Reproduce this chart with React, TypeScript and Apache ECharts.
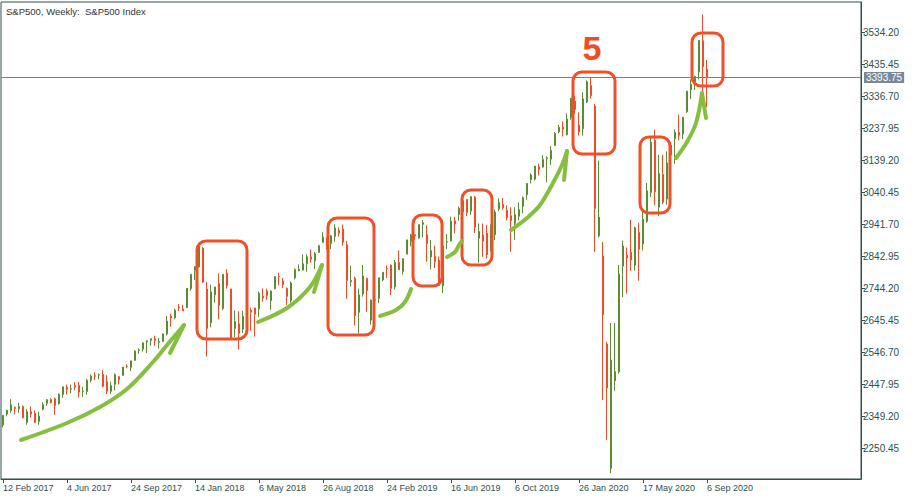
import React, { useEffect, useRef } from "react";
import * as echarts from "echarts";

// ---- data -----------------------------------------------------------
const firstWeekUTC = Date.UTC(2017, 1, 12);
const gapAfterIndex = 91; // broker data gap (10 weeks missing)
const gapWeeks = 10;
const slotCount = 215;
const tickEvery = 16;

const opens = [
  2321.7, 2354.9, 2365.2, 2375.2, 2371.6, 2378.2, 2329.1, 2362.3, 2357.2, 2332.6,
  2370.3, 2388.5, 2399.9, 2402.3, 2387.2, 2415.6, 2437.8, 2432.0, 2442.6, 2443.3,
  2424.0, 2424.5, 2459.5, 2473.4, 2475.5, 2477.1, 2454.9, 2425.5, 2447.4, 2470.4,
  2474.5, 2502.5, 2499.4, 2521.2, 2551.4, 2555.6, 2578.1, 2582.6, 2587.5, 2576.5,
  2579.5, 2602.7, 2657.2, 2652.2, 2685.9, 2679.1, 2683.7, 2742.7, 2799.0, 2809.2,
  2867.2, 2741.1, 2636.8, 2723.0, 2757.4, 2681.1, 2790.5, 2741.4, 2619.4, 2633.5,
  2617.2, 2670.1, 2675.4, 2682.5, 2680.3, 2718.6, 2735.4, 2705.1, 2741.7, 2780.2,
  2765.8, 2742.9, 2705.0, 2775.6, 2797.4, 2799.2, 2819.0, 2840.3, 2827.9, 2853.9,
  2884.7, 2897.0, 2881.4, 2903.8, 2921.8, 2926.3, 2877.5, 2763.8, 2773.9, 2669.3,
  2726.4, 2773.9, 2645.0, 2706.5, 2712.4, 2769.3, 2804.4, 2814.4, 2747.6, 2822.6,
  2796.0, 2848.6, 2888.3, 2908.3, 2898.8, 2940.6, 2908.9, 2840.2, 2841.9, 2830.0,
  2751.5, 2885.8, 2889.8, 2951.4, 2971.4, 2979.8, 3017.8, 2981.9, 3024.5, 2898.1,
  2907.1, 2913.5, 2866.7, 2909.0, 2988.4, 3001.5, 2983.5, 2967.1, 2944.2, 2965.8,
  2996.5, 3032.1, 3079.0, 3080.3, 3117.9, 3117.4, 3143.9, 3141.9, 3183.6, 3226.1,
  3240.1, 3217.6, 3271.1, 3321.0, 3247.2, 3235.7, 3318.3, 3369.0, 3305.0, 2905.0,
  2843.0, 2571.0, 2188.0, 2458.0, 2486.0, 2812.0, 2845.6, 2854.7, 2815.0, 2915.5,
  2880.0, 2950.0, 3038.8, 3199.9, 2993.8, 3094.4, 3018.6, 3155.3, 3205.1, 3224.3,
  3219.8, 3288.3, 3356.0, 3380.9, 3411.1, 3507.4, 3420.0,
];
const highs = [
  2351.3, 2367.8, 2401.0, 2378.8, 2390.0, 2381.9, 2370.4, 2378.4, 2366.4, 2361.4,
  2391.4, 2401.0, 2403.9, 2405.8, 2418.7, 2440.2, 2446.2, 2446.3, 2453.8, 2453.8,
  2439.2, 2463.5, 2477.6, 2484.0, 2480.4, 2490.9, 2474.9, 2454.8, 2480.4, 2472.0,
  2500.2, 2508.9, 2519.4, 2552.5, 2557.7, 2575.4, 2583.0, 2588.4, 2597.0, 2590.1,
  2604.2, 2657.7, 2665.2, 2680.4, 2695.0, 2692.1, 2743.2, 2787.9, 2810.3, 2872.9,
  2870.6, 2763.4, 2754.4, 2747.8, 2789.2, 2786.6, 2801.9, 2741.4, 2674.8, 2672.1,
  2674.0, 2717.5, 2683.6, 2682.9, 2732.9, 2743.0, 2742.2, 2736.9, 2779.9, 2791.5,
  2775.0, 2746.1, 2764.4, 2804.5, 2816.8, 2848.0, 2848.1, 2863.4, 2855.6, 2876.2,
  2916.5, 2900.2, 2908.3, 2940.9, 2931.4, 2939.9, 2889.5, 2813.5, 2778.9, 2741.7,
  2815.2, 2776.0, 2709.0, 2739.0, 2775.7, 2792.7, 2813.5, 2816.9, 2830.7, 2860.3,
  2836.0, 2893.4, 2910.5, 2909.6, 2939.9, 2954.1, 2937.3, 2892.2, 2874.7, 2841.4,
  2885.0, 2910.6, 2964.2, 2964.2, 2995.8, 3017.8, 3017.8, 3028.0, 3028.0, 2943.3,
  2943.3, 2939.1, 2940.4, 2985.9, 3020.9, 3022.0, 2999.2, 2993.3, 2993.3, 3008.3,
  3027.4, 3066.9, 3097.8, 3120.5, 3127.6, 3154.3, 3150.6, 3182.7, 3225.6, 3247.9,
  3258.1, 3283.0, 3329.9, 3337.8, 3285.9, 3348.0, 3385.1, 3393.5, 3312.0, 3137.0,
  2886.0, 2578.0, 2636.0, 2636.0, 2815.0, 2890.0, 2869.1, 2954.9, 2934.0, 2945.8,
  2980.3, 3068.7, 3211.7, 3233.1, 3155.5, 3155.5, 3165.8, 3186.4, 3233.7, 3279.3,
  3272.2, 3352.5, 3387.9, 3399.5, 3509.2, 3588.1, 3448.0,
];
const lows = [
  2313.9, 2348.0, 2358.9, 2354.5, 2358.9, 2341.9, 2322.3, 2344.7, 2328.1, 2322.2,
  2366.4, 2379.8, 2387.7, 2352.7, 2384.3, 2405.6, 2415.7, 2419.4, 2428.4, 2405.7,
  2407.7, 2415.8, 2453.5, 2459.9, 2462.3, 2437.8, 2417.4, 2417.3, 2428.2, 2446.6,
  2474.5, 2496.7, 2488.0, 2520.4, 2541.0, 2547.9, 2544.0, 2566.2, 2566.3, 2557.5,
  2578.2, 2598.0, 2624.8, 2647.6, 2673.2, 2673.6, 2682.4, 2736.1, 2768.6, 2808.1,
  2760.0, 2532.7, 2622.5, 2699.0, 2647.3, 2675.8, 2742.2, 2585.9, 2593.1, 2553.8,
  2605.6, 2660.0, 2612.7, 2594.6, 2655.2, 2701.9, 2707.4, 2676.8, 2740.5, 2752.7,
  2743.4, 2692.0, 2699.0, 2770.6, 2796.3, 2799.2, 2795.1, 2821.9, 2802.5, 2853.9,
  2884.7, 2864.1, 2864.1, 2887.0, 2903.3, 2874.3, 2710.5, 2749.2, 2628.2, 2603.5,
  2717.9, 2670.8, 2631.1, 2681.8, 2697.7, 2764.6, 2775.1, 2722.3, 2739.5, 2800.5,
  2785.7, 2848.6, 2873.3, 2891.9, 2896.4, 2900.5, 2825.4, 2801.4, 2805.5, 2750.5,
  2728.8, 2864.0, 2887.3, 2912.7, 2952.2, 2970.3, 2966.0, 2970.0, 2914.1, 2822.1,
  2840.6, 2835.0, 2857.0, 2891.9, 2981.4, 2985.7, 2952.9, 2856.0, 2892.7, 2952.9,
  2975.3, 3016.6, 3066.9, 3075.8, 3091.4, 3115.4, 3070.3, 3123.8, 3183.6, 3221.9,
  3212.0, 3214.6, 3263.6, 3281.5, 3214.6, 3214.6, 3315.2, 3328.5, 2855.8, 2900.0,
  2398.0, 2275.0, 2173.0, 2427.0, 2480.0, 2716.0, 2727.1, 2797.5, 2797.9, 2766.6,
  2860.0, 2945.0, 3025.0, 2999.5, 2965.7, 3003.0, 3000.9, 3115.7, 3127.7, 3200.1,
  3204.1, 3284.5, 3327.7, 3354.7, 3387.9, 3349.6, 3302.0,
];
const closes = [
  2351.2, 2367.3, 2383.1, 2372.6, 2378.3, 2344.0, 2362.7, 2355.5, 2329.0, 2348.7,
  2384.2, 2399.3, 2390.9, 2381.7, 2415.8, 2439.1, 2431.8, 2433.2, 2438.3, 2423.4,
  2425.2, 2459.3, 2472.5, 2472.1, 2476.8, 2441.3, 2425.6, 2443.1, 2476.6, 2461.4,
  2500.2, 2502.2, 2519.4, 2549.3, 2553.2, 2575.2, 2581.1, 2587.8, 2582.3, 2578.9,
  2602.4, 2642.2, 2651.5, 2675.8, 2683.3, 2673.6, 2743.2, 2786.2, 2810.3, 2872.9,
  2762.1, 2619.6, 2732.2, 2747.3, 2691.3, 2786.6, 2752.0, 2588.3, 2640.9, 2604.5,
  2656.3, 2670.1, 2669.9, 2663.4, 2727.7, 2713.0, 2721.3, 2734.6, 2779.0, 2779.4,
  2754.9, 2718.4, 2759.8, 2801.3, 2801.8, 2818.8, 2840.4, 2833.3, 2850.1, 2874.7,
  2901.5, 2871.7, 2905.0, 2929.7, 2914.0, 2885.6, 2767.1, 2767.8, 2658.7, 2723.1,
  2781.0, 2736.3, 2706.5, 2707.9, 2775.6, 2792.7, 2803.7, 2743.1, 2822.5, 2800.7,
  2834.4, 2892.7, 2907.4, 2905.0, 2939.9, 2945.6, 2881.4, 2859.5, 2826.1, 2752.1,
  2873.3, 2887.0, 2950.5, 2941.8, 2990.4, 3013.8, 2976.6, 3025.9, 2932.1, 2918.7,
  2888.7, 2847.1, 2926.5, 2978.7, 3007.4, 2992.1, 2961.8, 2952.0, 2970.3, 2986.2,
  3022.6, 3066.9, 3093.1, 3120.5, 3110.3, 3141.0, 3145.9, 3168.8, 3221.2, 3240.0,
  3234.9, 3265.4, 3329.6, 3295.5, 3225.5, 3327.7, 3380.2, 3337.8, 2990.0, 2963.0,
  2661.0, 2436.0, 2522.0, 2486.0, 2787.0, 2874.0, 2836.7, 2830.7, 2929.8, 2863.7,
  2955.5, 3044.3, 3193.9, 3041.3, 3097.7, 3009.1, 3130.0, 3185.0, 3224.7, 3215.6,
  3271.1, 3351.3, 3372.9, 3397.2, 3508.0, 3427.0, 3393.75,
];

const yTicks = [
  2250.45, 2349.2, 2447.95, 2546.7, 2645.45, 2744.2, 2842.95, 2941.7,
  3040.45, 3139.2, 3237.95, 3336.7, 3435.45, 3534.2,
];
const lastPrice = 3393.75;
const yMin = 2154.79;
const yMax = 3626.78;
const titleText = "S&P500, Weekly:  S&P500 Index";
const waveLabel = "5";

// ---- style -----------------------------------------------------------
const BULL = "#5a8c32";
const BEAR = "#f24c24";
const FRAME = "#2f4f4f";
const BOX = "#f34f27";
const ARROW = "#86bf40";
const MONTHS = ["Jan", "Feb", "Mar", "Apr", "May", "Jun", "Jul", "Aug", "Sep", "Oct", "Nov", "Dec"];

function buildWeeks(n: number): string[] {
  const out: string[] = [];
  let t = firstWeekUTC;
  for (let i = 0; i < n; i++) {
    const d = new Date(t);
    out.push(`${d.getUTCDate()} ${MONTHS[d.getUTCMonth()]} ${d.getUTCFullYear()}`);
    t += 7 * 864e5;
    if (i === gapAfterIndex) t += gapWeeks * 7 * 864e5;
  }
  return out;
}

// annotation overlays (hand-drawn marks in the reference)
const boxes = [
  { x: 197, y: 241, w: 50, h: 98 },
  { x: 328, y: 218, w: 46, h: 117 },
  { x: 413, y: 215, w: 29, h: 71 },
  { x: 462, y: 190, w: 30, h: 75 },
  { x: 573, y: 72, w: 42, h: 82 },
  { x: 640, y: 137, w: 30, h: 76 },
  { x: 692, y: 33, w: 31, h: 53 },
];
const arrows: number[][][] = [
  [[21, 440], [67, 423], [100, 407], [127, 389], [153, 362], [167, 345], [184, 325]],
  [[184, 325], [170, 353]],
  [[258, 322], [287, 308], [310, 287], [322, 265]],
  [[322, 265], [314, 292]],
  [[380, 316], [396, 310], [405, 302], [411, 289]],
  [[447, 257], [455, 252], [459, 245], [462, 241]],
  [[511, 230], [527, 218], [540, 205], [553, 183], [562, 165], [567, 151]],
  [[567, 151], [564, 180]],
  [[676, 158], [687, 142], [696, 123], [702, 93]],
  [[702, 93], [706, 118]],
];

export default function App() {
  const ref = useRef<HTMLDivElement>(null);
  useEffect(() => {
    if (!ref.current) return;
    const chart = echarts.init(ref.current, null, { renderer: "svg" });
    const n = closes.length;
    const weeks = buildWeeks(slotCount);
    const candles = opens.map((o, i) => [o, closes[i], lows[i], highs[i]]);
    const showIdx = (idx: number) => idx % tickEvery === 0 && idx < n;

    const graphic: any[] = [
      {
        type: "text",
        left: 6,
        top: 6,
        style: { text: titleText, fill: "#333", fontSize: 9.5, fontFamily: "Liberation Sans, Arial, sans-serif" },
        z: 10,
      },
      {
        type: "text",
        x: 592,
        y: 48,
        style: {
          text: waveLabel,
          fill: BEAR,
          fontSize: 34,
          fontWeight: "bold",
          fontFamily: "Liberation Sans, Arial, sans-serif",
          align: "center",
          verticalAlign: "middle",
        },
        z: 10,
      },
    ];
    boxes.forEach((b) =>
      graphic.push({
        type: "rect",
        shape: { x: b.x, y: b.y, width: b.w, height: b.h, r: 9 },
        style: { fill: "none", stroke: BOX, lineWidth: 3 },
        z: 9,
      })
    );
    arrows.forEach((pts) =>
      graphic.push({
        type: "polyline",
        shape: { points: pts, smooth: pts.length > 2 ? 0.35 : 0 },
        style: { fill: "none", stroke: ARROW, lineWidth: 4, lineCap: "round", lineJoin: "round" },
        z: 9,
      })
    );

    chart.setOption({
      animation: false,
      backgroundColor: "#ffffff",
      textStyle: { fontFamily: "Liberation Sans, Arial, sans-serif" },
      grid: {
        left: 1,
        top: 2,
        width: 860,
        height: 477,
        show: true,
        borderColor: FRAME,
        borderWidth: 1,
        containLabel: false,
      },
      xAxis: {
        type: "category",
        data: weeks,
        boundaryGap: true,
        axisLine: { show: true, lineStyle: { color: FRAME, width: 1 } },
        axisTick: { show: true, alignWithLabel: true, interval: showIdx, length: 4, lineStyle: { color: FRAME } },
        axisLabel: {
          show: true,
          interval: showIdx,
          align: "left",
          margin: 4,
          color: FRAME,
          fontSize: 9,
          fontFamily: "Liberation Sans, Arial, sans-serif",
        },
        splitLine: { show: false },
      },
      yAxis: {
        type: "value",
        position: "right",
        min: yMin,
        max: yMax,
        scale: true,
        axisLine: { show: true, lineStyle: { color: FRAME, width: 1 } },
        axisTick: { show: true, customValues: yTicks, length: 4, lineStyle: { color: FRAME } },
        axisLabel: {
          show: true,
          customValues: yTicks,
          formatter: (v: number) => v.toFixed(2),
          margin: 2,
          color: FRAME,
          fontSize: 10,
          fontFamily: "Liberation Sans, Arial, sans-serif",
        },
        splitLine: { show: false },
      },
      series: [
        {
          type: "candlestick",
          data: candles,
          barWidth: 2,
          itemStyle: {
            color: BULL,
            color0: BEAR,
            borderColor: BULL,
            borderColor0: BEAR,
            borderWidth: 1,
          },
          markLine: {
            silent: true,
            symbol: ["none", "none"],
            data: [{ yAxis: lastPrice }],
            lineStyle: { color: "#708090", width: 1, type: "solid" },
            label: {
              show: true,
              position: "end",
              distance: 3,
              formatter: lastPrice.toFixed(2),
              color: "#ffffff",
              backgroundColor: "#778899",
              padding: [1, 2, 0, 2],
              fontSize: 10,
              fontFamily: "Liberation Sans, Arial, sans-serif",
            },
          },
        },
      ],
      graphic,
    });
    return () => chart.dispose();
  }, []);
  return (
    <div
      ref={ref}
      style={{ position: "fixed", left: 0, top: 0, width: 915, height: 500, background: "#fff" }}
    />
  );
}
